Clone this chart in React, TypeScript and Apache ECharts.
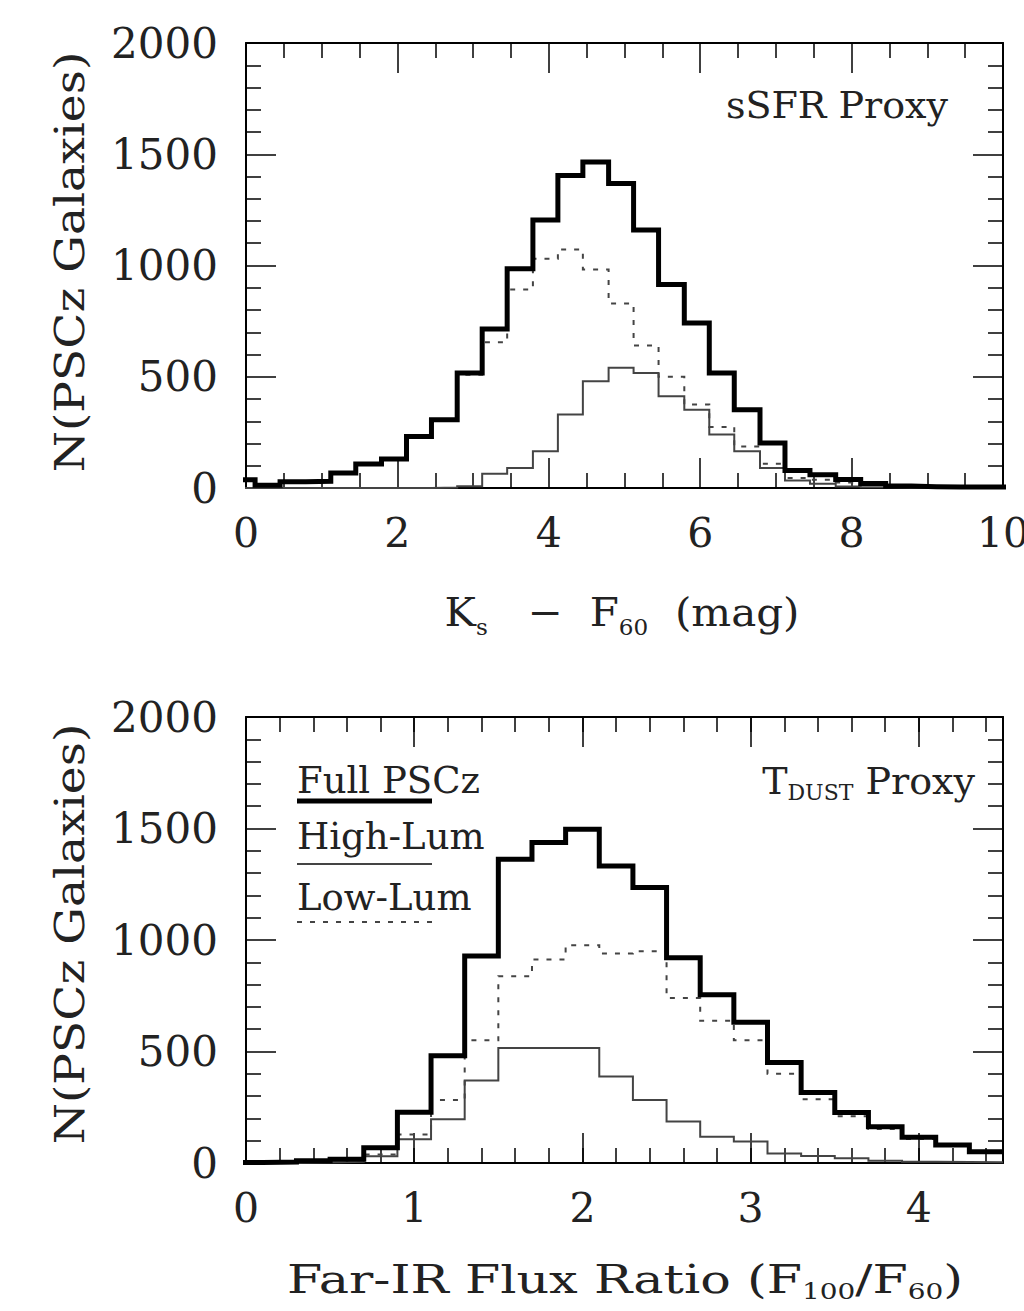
import React, { useEffect, useRef } from "react";
import * as echarts from "echarts";

// ---------- data ----------
// Top panel: Ks - F60 (mag), bin left edges (last value = right edge of last bin)
const topBinEdges = [-0.21, 0.12, 0.45, 0.79, 1.12, 1.45, 1.79, 2.12, 2.45, 2.79, 3.12, 3.45, 3.79, 4.12, 4.45, 4.79, 5.12, 5.45, 5.79, 6.12, 6.45, 6.79, 7.12, 7.45, 7.79, 8.12, 8.45, 8.79, 9.12, 9.45, 9.79, 10.12];
const topFull = [37, 12, 28, 30, 67, 108, 130, 232, 307, 517, 715, 985, 1204, 1405, 1465, 1368, 1160, 915, 742, 517, 352, 202, 79, 60, 38, 20, 9, 6, 5, 4, 4];
const topHigh = [0, 0, 0, 0, 0, 0, 0, 0, 2, 8, 64, 90, 165, 330, 480, 540, 517, 412, 352, 240, 165, 90, 34, 19, 7, 3, 1, 0, 0, 0, 0];
const topLow = [37, 12, 28, 30, 67, 108, 130, 232, 305, 509, 655, 892, 1030, 1072, 982, 829, 640, 500, 375, 274, 187, 109, 45, 37, 25, 15, 8, 5, 4, 3, 3];

// Bottom panel: F100/F60
const botBinEdges = [-0.1, 0.1, 0.3, 0.5, 0.7, 0.9, 1.1, 1.3, 1.5, 1.7, 1.9, 2.1, 2.3, 2.5, 2.7, 2.9, 3.1, 3.3, 3.5, 3.7, 3.9, 4.1, 4.3, 4.5];
const botFull = [2, 4, 10, 17, 68, 228, 481, 928, 1362, 1437, 1497, 1332, 1235, 920, 755, 631, 451, 316, 226, 163, 115, 81, 51];
const botHigh = [0, 0, 2, 5, 30, 107, 196, 370, 516, 516, 516, 388, 283, 186, 118, 96, 43, 31, 21, 10, 6, 4, 3];
const botLow = [2, 4, 8, 12, 38, 128, 283, 550, 838, 913, 977, 940, 950, 740, 638, 550, 400, 286, 210, 152, 108, 77, 48];

// Axis ranges / ticks
const topXRange = [0, 10];
const topXMajor = 2;
const topXMinorSplit = 4;
const botXRange = [0, 4.5];
const botXMajor = 1;
const botXMinor = 0.2;
const yRange = [0, 2000];
const yMajor = 500;
const yMinorSplit = 5;

const seriesNames = ["Full PSCz", "High-Lum", "Low-Lum"];

// ---------- styling ----------
const FONT = "DejaVu Serif";
const TXT = "#222";
const MAJOR_LEN = 30;
const MINOR_LEN = 15;

function stepData(edges: number[], values: number[]) {
  const d: number[][] = values.map((v, i) => [edges[i], v]);
  d.push([edges[edges.length - 1], values[values.length - 1]]);
  return d;
}

const plainNum = (v: number) => String(Math.round(v * 100) / 100);

function xAxisDef(gridIndex: number, position: string, min: number, max: number, interval: number, opts: any) {
  return {
    type: "value",
    gridIndex,
    position,
    min,
    max,
    interval,
    axisLine: { show: opts.line !== false, onZero: false, lineStyle: { color: "#000", width: 2 } },
    axisTick: { show: true, inside: true, length: opts.tickLen ?? MAJOR_LEN, lineStyle: { color: "#000", width: 1.5 } },
    minorTick: opts.minorSplit
      ? { show: true, splitNumber: opts.minorSplit, length: MINOR_LEN, lineStyle: { color: "#000", width: 1.5 } }
      : { show: false },
    splitLine: { show: false },
    minorSplitLine: { show: false },
    axisLabel: opts.labels
      ? {
          show: true,
          margin: 24,
          fontFamily: FONT,
          fontSize: 41,
          color: TXT,
          formatter: plainNum,
          showMaxLabel: opts.showMax !== false,
          showMinLabel: true,
        }
      : { show: false },
  };
}

function yAxisDef(gridIndex: number, position: string, labels: boolean) {
  return {
    type: "value",
    gridIndex,
    position,
    min: yRange[0],
    max: yRange[1],
    interval: yMajor,
    axisLine: { show: true, onZero: false, lineStyle: { color: "#000", width: 2 } },
    axisTick: { show: true, inside: true, length: MAJOR_LEN, lineStyle: { color: "#000", width: 1.5 } },
    minorTick: { show: true, splitNumber: yMinorSplit, length: MINOR_LEN, lineStyle: { color: "#000", width: 1.5 } },
    splitLine: { show: false },
    minorSplitLine: { show: false },
    axisLabel: labels
      ? { show: true, margin: 28, fontFamily: FONT, fontSize: 42, color: TXT, formatter: plainNum, showMinLabel: true, showMaxLabel: true }
      : { show: false },
  };
}

const styles = {
  full: { color: "#000", width: 5, type: "solid" as any },
  high: { color: "#444", width: 2, type: "solid" as any },
  low: { color: "#444", width: 2, type: [5, 8] as any },
};

function histSeries(name: string, edges: number[], vals: number[], xi: number, yi: number, ls: any, z: number) {
  return {
    name,
    type: "line",
    step: "end",
    xAxisIndex: xi,
    yAxisIndex: yi,
    data: stepData(edges, vals),
    showSymbol: false,
    symbol: "none",
    clip: true,
    z,
    lineStyle: { color: ls.color, width: ls.width, type: ls.type, cap: "butt", join: "miter" },
    itemStyle: { color: ls.color },
    emphasis: { disabled: true },
  };
}

const mainRich = (lh: number) => ({ fontFamily: FONT, fontSize: 40, color: TXT, lineHeight: lh });
const subRich = (fs: number) => ({ fontFamily: FONT, fontSize: fs, color: TXT, lineHeight: fs, verticalAlign: "bottom" });

export default function App() {
  const ref = useRef<HTMLDivElement>(null);

  useEffect(() => {
    if (!ref.current) return;
    const chart = echarts.init(ref.current, undefined, { renderer: "svg" });

    const option: any = {
      animation: false,
      backgroundColor: "#fff",
      grid: [
        { left: 246, top: 43, width: 757, height: 445, outerBoundsMode: "none", containLabel: false },
        { left: 246, top: 717, width: 757, height: 446, outerBoundsMode: "none", containLabel: false },
      ],
      xAxis: [
        xAxisDef(0, "bottom", topXRange[0], topXRange[1], topXMajor, { labels: true, minorSplit: topXMinorSplit }),
        xAxisDef(0, "top", topXRange[0], topXRange[1], topXMajor, { labels: false, minorSplit: topXMinorSplit }),
        xAxisDef(1, "bottom", botXRange[0], botXRange[1], botXMajor, { labels: true, showMax: false }),
        xAxisDef(1, "bottom", botXRange[0], botXRange[1], botXMinor, { labels: false, line: false, tickLen: MINOR_LEN }),
        xAxisDef(1, "top", botXRange[0], botXRange[1], botXMajor, { labels: false }),
        xAxisDef(1, "top", botXRange[0], botXRange[1], botXMinor, { labels: false, line: false, tickLen: MINOR_LEN }),
      ],
      yAxis: [
        yAxisDef(0, "left", true),
        yAxisDef(0, "right", false),
        yAxisDef(1, "left", true),
        yAxisDef(1, "right", false),
      ],
      series: [
        histSeries(seriesNames[2], topBinEdges, topLow, 0, 0, styles.low, 2),
        histSeries(seriesNames[1], topBinEdges, topHigh, 0, 0, styles.high, 3),
        histSeries(seriesNames[0], topBinEdges, topFull, 0, 0, styles.full, 4),
        histSeries(seriesNames[2], botBinEdges, botLow, 2, 2, styles.low, 2),
        histSeries(seriesNames[1], botBinEdges, botHigh, 2, 2, styles.high, 3),
        histSeries(seriesNames[0], botBinEdges, botFull, 2, 2, styles.full, 4),
      ],
      graphic: [
        // y-axis titles
        {
          type: "text",
          x: 70,
          y: 262,
          rotation: Math.PI / 2,
          scaleX: 1.15,
          style: { text: "N(PSCz Galaxies)", fontFamily: FONT, fontSize: 41, fill: TXT, align: "center", verticalAlign: "middle" },
        },
        {
          type: "text",
          x: 70,
          y: 934,
          rotation: Math.PI / 2,
          scaleX: 1.15,
          style: { text: "N(PSCz Galaxies)", fontFamily: FONT, fontSize: 41, fill: TXT, align: "center", verticalAlign: "middle" },
        },
        // x-axis titles
        {
          type: "text",
          x: 622,
          y: 612,
          scaleX: 1.05,
          style: {
            text: "{a|K}{b|s}{a|   −  F}{b|60}{a|  (mag)}",
            rich: { a: mainRich(52), b: subRich(22) },
            fontFamily: FONT,
            fontSize: 40,
            fill: TXT,
            align: "center",
            verticalAlign: "middle",
          },
        },
        {
          type: "text",
          x: 625,
          y: 1279,
          scaleX: 1.27,
          style: {
            text: "{a|Far-IR Flux Ratio (F}{b|100}{a|/F}{b|60}{a|)}",
            rich: { a: mainRich(48), b: subRich(22) },
            fontFamily: FONT,
            fontSize: 40,
            fill: TXT,
            align: "center",
            verticalAlign: "middle",
          },
        },
        // panel labels
        {
          type: "text",
          x: 948,
          y: 105,
          style: { text: "sSFR Proxy", fontFamily: FONT, fontSize: 38, fill: TXT, align: "right", verticalAlign: "middle" },
        },
        {
          type: "text",
          x: 975,
          y: 781,
          style: {
            text: "{a|T}{b|DUST}{c| Proxy}",
            rich: {
              a: { fontFamily: FONT, fontSize: 38, color: TXT, lineHeight: 44 },
              b: { fontFamily: FONT, fontSize: 22, color: TXT, lineHeight: 22, verticalAlign: "bottom" },
              c: { fontFamily: FONT, fontSize: 38, color: TXT, lineHeight: 44 },
            },
            fontFamily: FONT,
            fontSize: 38,
            fill: TXT,
            align: "right",
            verticalAlign: "middle",
          },
        },
        // legend
        {
          type: "text",
          x: 297,
          y: 780,
          style: { text: seriesNames[0], fontFamily: FONT, fontSize: 37, fill: TXT, align: "left", verticalAlign: "middle" },
        },
        {
          type: "line",
          shape: { x1: 297, y1: 801, x2: 432, y2: 801 },
          style: { stroke: "#000", lineWidth: 5 },
        },
        {
          type: "text",
          x: 297,
          y: 836,
          style: { text: seriesNames[1], fontFamily: FONT, fontSize: 37, fill: TXT, align: "left", verticalAlign: "middle" },
        },
        {
          type: "line",
          shape: { x1: 297, y1: 864, x2: 432, y2: 864 },
          style: { stroke: "#444", lineWidth: 2 },
        },
        {
          type: "text",
          x: 297,
          y: 897,
          style: { text: seriesNames[2], fontFamily: FONT, fontSize: 37, fill: TXT, align: "left", verticalAlign: "middle" },
        },
        {
          type: "line",
          shape: { x1: 297, y1: 922, x2: 432, y2: 922 },
          style: { stroke: "#444", lineWidth: 2, lineDash: [5, 8] },
        },
      ],
    };

    chart.setOption(option);
    return () => chart.dispose();
  }, []);

  return (
    <div
      ref={ref}
      style={{ position: "absolute", left: 0, top: 0, width: 1024, height: 1311, background: "#fff" }}
    />
  );
}
